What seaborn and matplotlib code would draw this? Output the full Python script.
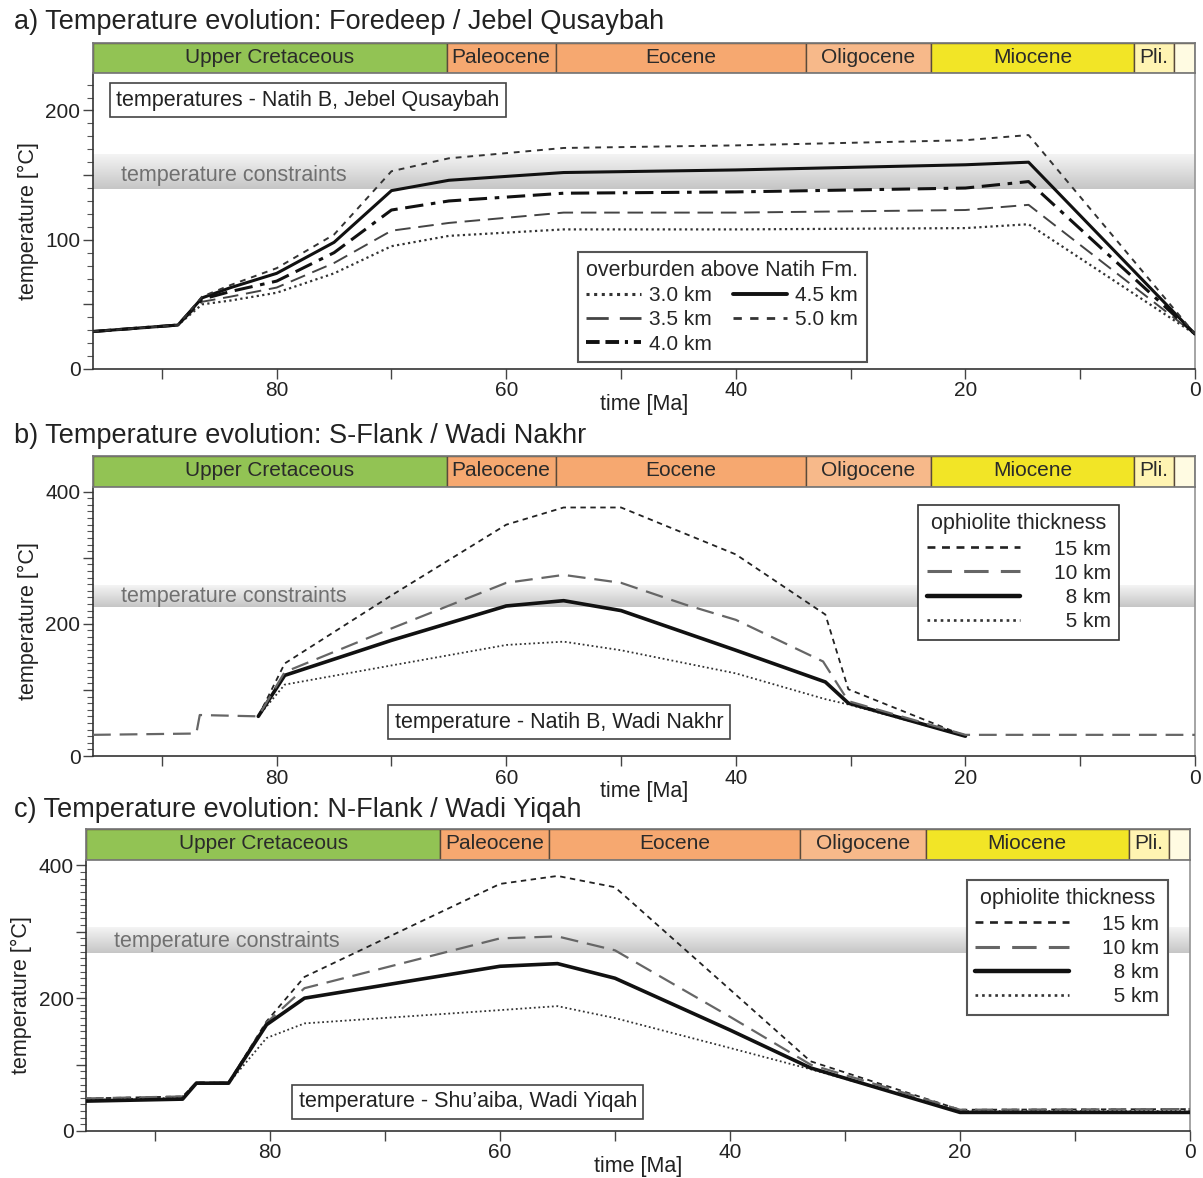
import numpy as np
import pandas as pd
import matplotlib
matplotlib.use('Agg')
import matplotlib.pyplot as plt
from matplotlib.lines import Line2D
from matplotlib.ticker import MultipleLocator, FuncFormatter
from matplotlib.colors import LinearSegmentedColormap
import seaborn as sns

sns.set_theme(style='white')
plt.rcParams['font.family'] = ['Liberation Sans', 'DejaVu Sans']

# stratigraphic bar
epoch_names = ['Upper Cretaceous', 'Paleocene', 'Eocene', 'Oligocene', 'Miocene', 'Pli.', '']
epoch_start = [96, 65.2, 55.7, 33.9, 23, 5.3, 1.8]
epoch_end = [65.2, 55.7, 33.9, 23, 5.3, 1.8, 0]
epoch_colors = ['#92c354', '#f6a870', '#f6a870', '#f7b98a', '#f2e526', '#fff4b2', '#fffbe2']

# a) Foredeep / Jebel Qusaybah, overburden above Natih Fm.
a_time = [96, 88.6, 86.5, 84, 80, 75, 70, 65, 55, 40, 20, 14.5, 0]
a_30 = [29, 34, 50, 53, 59, 74, 95, 103, 108, 108, 109, 112, 27]
a_35 = [29, 34, 52, 56, 63, 82, 107, 113, 121, 121, 123, 127, 27]
a_40 = [29, 34, 54, 60, 68, 90, 123, 130, 136, 137, 140, 145, 27]
a_45 = [29, 34, 55, 63, 74, 98, 138, 146, 152, 154, 158, 160, 27]
a_50 = [29, 34, 56, 65, 78, 104, 153, 163, 171, 173, 177, 181, 27]

# b) S-Flank / Wadi Nakhr, ophiolite thickness
b_time_10 = [96, 87.0, 86.7, 81.6, 79.3, 70, 60, 55, 50, 44.4, 40, 32.4, 30.2, 20, 0]
b_10 = [32, 34, 62, 60, 127, 193, 262, 274, 262, 229, 206, 143, 83, 32, 32]
b_time = [81.6, 79.3, 70, 60, 55, 50, 40, 32.2, 30.2, 20]
b_15 = [60, 140, 243, 350, 376, 376, 305, 214, 101, 30]
b_8 = [60, 122, 175, 227, 235, 220, 160, 112, 80, 30]
b_5 = [60, 108, 137, 168, 173, 160, 125, 86, 78, 30]

# c) N-Flank / Wadi Yiqah, ophiolite thickness
c_time = [96, 87.6, 86.4, 83.6, 80.3, 77, 60, 55, 50, 40, 33, 20, 0]
c_15 = [49, 52, 73, 73, 165, 232, 372, 384, 367, 213, 105, 32, 33]
c_10 = [49, 52, 73, 73, 163, 215, 290, 293, 272, 172, 100, 32, 33]
c_8 = [45, 48, 72, 72, 160, 200, 248, 252, 230, 152, 95, 28, 28]
c_5 = [47, 50, 72, 72, 140, 162, 182, 188, 170, 125, 93, 30, 30]

styles_a = {
    '3.0 km': dict(color='#333333', lw=1.6, ls=(0, (1, 1.5))),
    '3.5 km': dict(color='#444444', lw=1.4, ls=(0, (8, 4))),
    '4.0 km': dict(color='#111111', lw=2.2, ls=(0, (6, 2.5, 6, 2.5, 1.5, 2.5))),
    '4.5 km': dict(color='#111111', lw=2.2, ls='-'),
    '5.0 km': dict(color='#333333', lw=1.4, ls=(0, (3, 3))),
}
styles_o = {
    '15 km': dict(color='#222222', lw=1.3, ls=(0, (3, 2.5))),
    '10 km': dict(color='#666666', lw=1.6, ls=(0, (8, 4))),
    '8 km': dict(color='#111111', lw=2.6, ls='-'),
    '5 km': dict(color='#333333', lw=1.3, ls=(0, (1, 1.5))),
}


def long_df(pairs):
    frames = []
    for name, t, v in pairs:
        frames.append(pd.DataFrame({'time': t, 'temp': v, 'case': name}))
    return pd.concat(frames, ignore_index=True)


df_a = long_df([('3.0 km', a_time, a_30), ('3.5 km', a_time, a_35), ('4.0 km', a_time, a_40),
                ('4.5 km', a_time, a_45), ('5.0 km', a_time, a_50)])
df_b = long_df([('5 km', b_time, b_5), ('15 km', b_time, b_15), ('8 km', b_time, b_8),
                ('10 km', b_time_10, b_10)])
df_c = long_df([('5 km', c_time, c_5), ('15 km', c_time, c_15), ('10 km', c_time, c_10),
                ('8 km', c_time, c_8)])

W, H = 1203, 1178
fig = plt.figure(figsize=(W / 100, H / 100), dpi=100)

band_cmap = LinearSegmentedColormap.from_list('band', ['#f4f4f4', '#c6c6c6'])


def make_panel(x0, x1, ytop_bar, ytop, ybot, ymax, major, label_every, band,
               band_y, df, styles, title, title_y, note, note_xy):
    l = x0 / W
    w = (x1 - x0) / W
    ax = fig.add_axes([l, 1 - ybot / H, w, (ybot - ytop) / H])
    axb = fig.add_axes([l, 1 - ytop / H, w, (ytop - ytop_bar) / H])

    # stratigraphic bar
    for name, s, e, c in zip(epoch_names, epoch_start, epoch_end, epoch_colors):
        axb.barh(0.5, s - e, left=e, height=1, color=c, edgecolor='#5a4a3a', linewidth=1)
        if name:
            axb.text((s + e) / 2, 0.52, name, ha='center', va='center', fontsize=15, color='#2a2a2a')
    axb.set_xlim(96, 0)
    axb.set_ylim(0, 1)
    axb.set_xticks([])
    axb.set_yticks([])
    for sp in axb.spines.values():
        sp.set_color('#777777')

    # temperature constraint band
    grad = np.linspace(1, 0, 60).reshape(-1, 1)
    ax.imshow(grad, cmap=band_cmap, extent=[96, 0, band[0], band[1]], origin='lower',
              aspect='auto', zorder=0, vmin=0, vmax=1)
    ax.text(93.6, band_y, 'temperature constraints', color='#707070', fontsize=15.5,
            va='center', ha='left', zorder=1)

    for case in df['case'].unique():
        st = styles[case]
        sub = df[df['case'] == case]
        sns.lineplot(data=sub, x='time', y='temp', ax=ax, color=st['color'], linewidth=st['lw'],
                     linestyle=st['ls'], estimator=None, sort=False, legend=False, zorder=3)

    ax.set_xlim(96, 0)
    ax.set_ylim(0, ymax)
    ax.xaxis.set_major_locator(MultipleLocator(10))
    ax.xaxis.set_major_formatter(FuncFormatter(lambda v, p: f'{int(round(v))}' if round(v) % 20 == 0 else ''))
    ax.yaxis.set_major_locator(MultipleLocator(major))
    ax.yaxis.set_minor_locator(MultipleLocator(10))
    ax.yaxis.set_major_formatter(FuncFormatter(lambda v, p: f'{int(round(v))}' if round(v) % label_every == 0 else ''))
    ax.tick_params(axis='both', which='major', direction='out', length=7, width=1,
                   color='#444444', labelsize=15, labelcolor='#222222', pad=2,
                   left=True, bottom=True)
    ax.tick_params(axis='y', which='minor', direction='out', length=4, width=0.8,
                   color='#555555', left=True)
    for side in ['left', 'bottom']:
        ax.spines[side].set_color('#333333')
        ax.spines[side].set_linewidth(1.2)
    ax.spines['right'].set_color('#999999')
    ax.spines['top'].set_visible(False)
    ax.grid(False)
    ax.set_xlabel('time [Ma]', fontsize=15.5, color='#222222')
    ax.set_ylabel('temperature [°C]', fontsize=15.5, color='#222222')
    ax.xaxis.set_label_coords(0.5, -0.085 * 296 / (ybot - ytop))
    ax.yaxis.set_label_coords(-0.049, 0.5)

    ax.text(note_xy[0], note_xy[1], note, fontsize=15.5, ha='left', va='center', color='#222222',
            zorder=5, bbox=dict(boxstyle='square,pad=0.3', fc='white', ec='#444444', lw=1.2))

    fig.text(14 / W, 1 - title_y / H, title, fontsize=19.5, va='center', ha='left', color='#222222')
    return ax


def handles_for(styles, names):
    hs = []
    for n in names:
        ls = styles[n]['ls']
        if n == '4.0 km':
            ls = (0, (3.5, 1.5, 3.5, 1.5, 0.8, 1.5))
        hs.append(Line2D([0], [0], color=styles[n]['color'], lw=styles[n]['lw'] + 0.6, ls=ls))
    return hs


ax_a = make_panel(93, 1195, 43, 73, 369, 229, 50, 100, (139, 166), 150, df_a, styles_a,
                  'a) Temperature evolution: Foredeep / Jebel Qusaybah', 22,
                  'temperatures - Natih B, Jebel Qusaybah', (94.0, 208))
names_a = ['3.0 km', '3.5 km', '4.0 km', '4.5 km', '5.0 km']
leg = ax_a.legend(handles_for(styles_a, names_a), names_a, title='overburden above Natih Fm.',
                  ncol=2, loc='lower left', bbox_to_anchor=(0.44, 0.024), borderaxespad=0,
                  fontsize=15, title_fontsize=15.5, handlelength=2.6, handletextpad=0.4,
                  columnspacing=1.0, labelspacing=0.25, frameon=True, fancybox=False,
                  framealpha=1, edgecolor='#555555', borderpad=0.4)
leg.get_frame().set_linewidth(1.5)

names_o = ['15 km', '10 km', '8 km', '5 km']
labels_o = ['15 km', '10 km', '\u20078 km', '\u20075 km']

ax_b = make_panel(93, 1195, 456, 487, 756, 407, 100, 200, (226, 259), 242, df_b, styles_o,
                  'b) Temperature evolution: S-Flank / Wadi Nakhr', 436,
                  'temperature - Natih B, Wadi Nakhr', (69.7, 51))
leg = ax_b.legend(handles_for(styles_o, names_o), labels_o, title='ophiolite thickness',
                  loc='upper left', bbox_to_anchor=(0.749, 0.933), borderaxespad=0,
                  fontsize=15, title_fontsize=15.5, handlelength=4.5, handletextpad=1.6,
                  labelspacing=0.25, frameon=True, fancybox=False, framealpha=1,
                  edgecolor='#333333', borderpad=0.4)
leg.get_frame().set_linewidth(1.2)

ax_c = make_panel(86, 1190, 829, 860, 1131, 408, 100, 200, (268, 306), 285, df_c, styles_o,
                  'c) Temperature evolution: N-Flank / Wadi Yiqah', 810,
                  'temperature - Shu\u2019aiba, Wadi Yiqah', (77.5, 44))
leg = ax_c.legend(handles_for(styles_o, names_o), labels_o, title='ophiolite thickness',
                  loc='upper left', bbox_to_anchor=(0.798, 0.926), borderaxespad=0,
                  fontsize=15, title_fontsize=15.5, handlelength=4.5, handletextpad=1.6,
                  labelspacing=0.25, frameon=True, fancybox=False, framealpha=1,
                  edgecolor='#555555', borderpad=0.4)
leg.get_frame().set_linewidth(1.5)

fig.savefig('out.png', dpi=100)
